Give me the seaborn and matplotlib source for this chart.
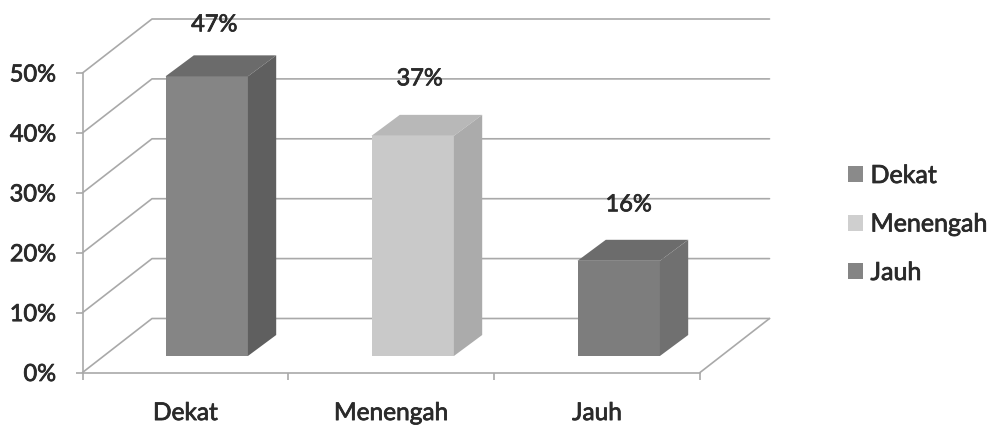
import matplotlib
matplotlib.use("Agg")
import matplotlib.pyplot as plt
import matplotlib.patheffects as pe
from matplotlib.patches import Patch, Polygon
import pandas as pd
import seaborn as sns

categories = ["Dekat", "Menengah", "Jauh"]
values = [47, 37, 16]
value_labels = ["47%", "37%", "16%"]
y_ticks = [0, 10, 20, 30, 40, 50]
y_tick_labels = ["0%", "10%", "20%", "30%", "40%", "50%"]

front_colors = ["#858585", "#c9c9c9", "#7d7d7d"]
top_colors = ["#6b6b6b", "#b8b8b8", "#6c6c6c"]
side_colors = ["#5f5f5f", "#ababab", "#707070"]
legend_colors = ["#8a8a8a", "#cfcfcf", "#848484"]

GRID = "#a9a9a9"
INK = "#2a2a2a"
W, H = 1000, 426

sns.set_style("white")
plt.rcParams["font.family"] = ["Lato", "DejaVu Sans"]

# A thin stroke gives the labels their heavier printed look.
heavy = [pe.withStroke(linewidth=0.55, foreground=INK)]


def add_axes_px(fig, left, right, top, bottom):
    return fig.add_axes([left / W, (H - bottom) / H, (right - left) / W, (bottom - top) / H])


fig = plt.figure(figsize=(W / 100, H / 100), dpi=100, facecolor="white")

# Front plane of the 3D box: carries the value axis and category axis.
wall = add_axes_px(fig, 82.5, 700, 73, 372.5)
wall.set_xlim(0, 3)
wall.set_ylim(0, 50)
wall.patch.set_visible(False)
for name in ("top", "right"):
    wall.spines[name].set_visible(False)
for name in ("left", "bottom"):
    wall.spines[name].set_color(GRID)
    wall.spines[name].set_linewidth(1.2)
wall.set_yticks(y_ticks, y_tick_labels, fontsize=17, color=INK)
wall.set_xticks([0, 1, 2, 3], [])
wall.set_xticks([0.5, 1.5, 2.5], categories, minor=True, fontsize=17.6, color=INK)
wall.tick_params(axis="both", which="major", length=5, width=1.2, color=GRID, left=True, bottom=True)
wall.tick_params(axis="y", pad=14)
wall.tick_params(axis="x", which="minor", length=0, pad=22)
for label in wall.get_yticklabels() + wall.get_xticklabels(minor=True):
    label.set_path_effects(heavy)

# Back wall and floor lines, pushed back in depth from the front plane.
wall_px_x = 3 / 617.5
wall_px_y = 50 / 299.5
back_x = 69.5 * wall_px_x
back_y = 54 * wall_px_y
for v in y_ticks:
    wall.plot([0, back_x, 3 + back_x], [v, v + back_y, v + back_y],
              color=GRID, lw=1.2, clip_on=False, zorder=1)
wall.plot([3, 3 + back_x], [0, back_y], color=GRID, lw=1.2, clip_on=False, zorder=1)

# Bars stand on a plane set between the front edge and the back wall.
ax = add_axes_px(fig, 103.7, 721.7, 58.5, 356)
ax.patch.set_visible(False)
frame = pd.DataFrame({"kategori": categories, "nilai": values})
sns.barplot(data=frame, x="kategori", y="nilai", hue="kategori", order=categories,
            hue_order=categories, palette=front_colors, width=0.4, legend=False,
            saturation=1, ax=ax, zorder=3, edgecolor="none", linewidth=0)
ax.set_xlim(-0.5, 2.5)
ax.set_ylim(0, 50)
ax.axis("off")

bar_half = 0.2
depth_x = 28.3 / 206
depth_y = 21 / 5.95
for i, v in enumerate(values):
    left, right = i - bar_half, i + bar_half
    ax.add_patch(Polygon([(left, v), (right, v), (right + depth_x, v + depth_y), (left + depth_x, v + depth_y)],
                         closed=True, facecolor=top_colors[i], edgecolor="none", clip_on=False, zorder=3))
    ax.add_patch(Polygon([(right, 0), (right + depth_x, depth_y), (right + depth_x, v + depth_y), (right, v)],
                         closed=True, facecolor=side_colors[i], edgecolor="none", clip_on=False, zorder=3))

# Value labels float above each bar.
label_dx = [7.5, 7, 10]
label_dy = [51.5, 57, 56]
for i, v in enumerate(values):
    ax.annotate(value_labels[i], xy=(i, v), xytext=(label_dx[i] * 0.72, label_dy[i] * 0.72),
                textcoords="offset points", ha="center", va="center",
                fontsize=17, color=INK, annotation_clip=False, zorder=5, path_effects=heavy)

handles = [Patch(facecolor=c, edgecolor="none") for c in legend_colors]
legend = fig.legend(handles, categories, loc="center left", bbox_to_anchor=(847.5 / W, 1 - 224 / H),
                    frameon=False, fontsize=18, labelcolor=INK, handlelength=0.62, handleheight=0.62,
                    handletextpad=0.3, labelspacing=1.02, borderaxespad=0, borderpad=0)
for text in legend.get_texts():
    text.set_path_effects(heavy)

fig.savefig("out.png", dpi=100, facecolor="white")
